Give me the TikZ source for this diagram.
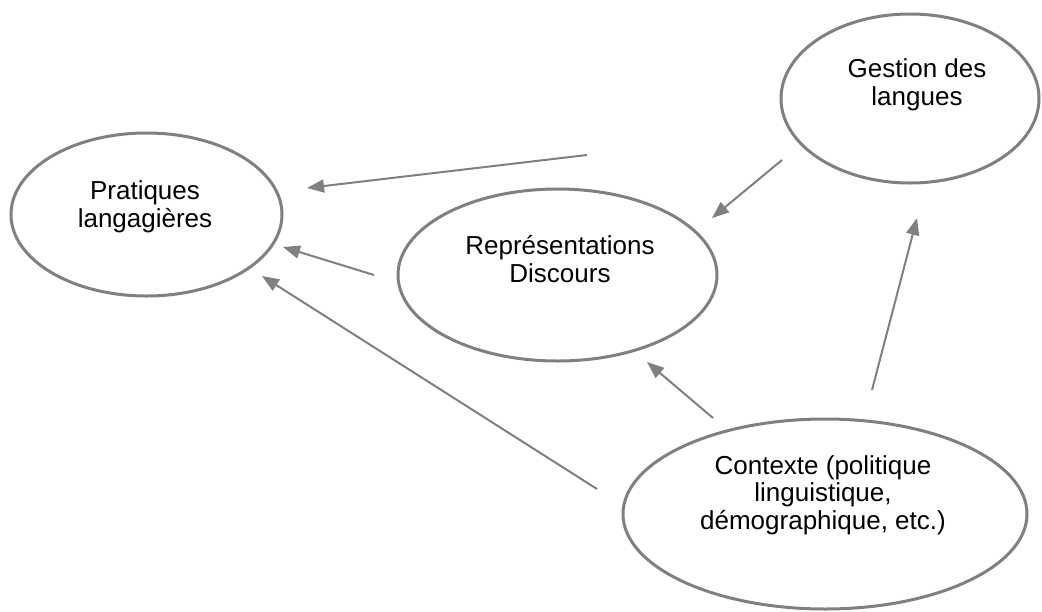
\documentclass[tikz,border=0pt]{standalone}
\usepackage{fontspec}
\setmainfont{Liberation Sans}
\usetikzlibrary{shapes.geometric,arrows.meta}
\definecolor{linegray}{HTML}{808080}
\tikzset{
  blob/.style={draw=linegray, line width=3pt, ellipse, inner sep=0pt, fill=white},
  txt/.style={align=center, font=\fontsize{26}{27.5}\selectfont, inner sep=0pt, text=black},
  arr/.style={draw=linegray, line width=2pt, -{Triangle[length=17pt,width=13pt]}}
}
\begin{document}
\begin{tikzpicture}[x=1pt,y=-1pt]
\useasboundingbox[fill=white] (0,0) rectangle (1042,611);
% ellipses
\node[blob, minimum width=271pt, minimum height=163pt] (prat) at (146.5,214.5) {};
\node[blob, minimum width=319pt, minimum height=172pt] (repr) at (557.5,275) {};
\node[blob, minimum width=258pt, minimum height=169pt] (gest) at (910,98.5) {};
\node[blob, minimum width=404pt, minimum height=190pt] (cont) at (825,514) {};
% texts
\node[txt] (pratT) at (145,207) {Pratiques\\langagières};
\node[txt] (reprT) at (560,259) {Représentations\\Discours};
\node[txt] (gestT) at (917,85) {Gestion des\\langues};
\node[txt] (contT) at (823,495) {Contexte (politique\\linguistique,\\démographique, etc.)};
% connector end points
\coordinate (g2pS) at (587,155);  \coordinate (g2pE) at (307,188);
\coordinate (g2rS) at (782,160);  \coordinate (g2rE) at (712,218);
\coordinate (r2pS) at (374,275);  \coordinate (r2pE) at (283,247);
\coordinate (c2pS) at (597,489);  \coordinate (c2pE) at (262,276);
\coordinate (c2rS) at (713,418);  \coordinate (c2rE) at (647,362);
\coordinate (c2gS) at (872,390);  \coordinate (c2gE) at (917,218);
% connectors
\draw[arr] (g2pS) -- (g2pE);
\draw[arr] (g2rS) -- (g2rE);
\draw[arr] (r2pS) -- (r2pE);
\draw[arr] (c2pS) -- (c2pE);
\draw[arr] (c2rS) -- (c2rE);
\draw[arr] (c2gS) -- (c2gE);
\end{tikzpicture}
\end{document}
